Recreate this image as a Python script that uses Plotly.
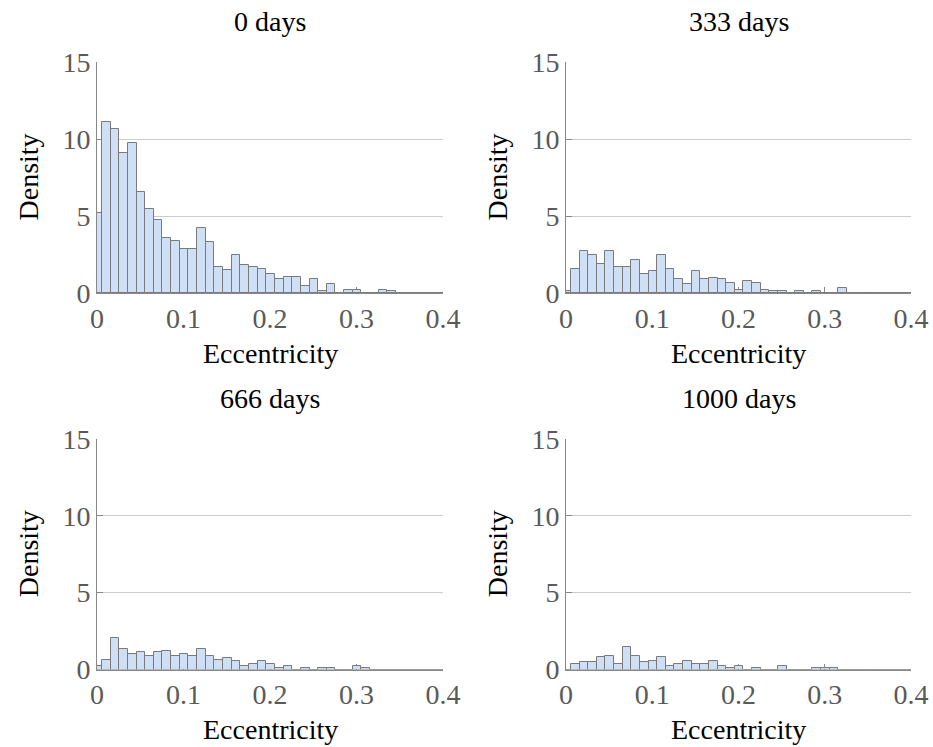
import plotly.graph_objects as go

# Bin layout (width 0.01, edges offset so the first bin is clipped at 0)
bin_width = 0.01
bin_start = -0.0043

days_0 = [5.17, 11.09, 10.65, 9.07, 9.74, 6.57, 5.43, 4.74, 3.54, 3.39, 2.83, 2.83, 4.20, 3.28,
          1.72, 1.48, 2.50, 1.80, 1.72, 1.59, 1.26, 0.91, 1.04, 1.04, 0.46, 0.91, 0.13, 0.59,
          0.0, 0.22, 0.22, 0.0, 0.0, 0.22, 0.11, 0, 0, 0, 0, 0, 0]
days_333 = [0.15, 1.57, 2.70, 2.48, 1.91, 2.70, 1.70, 1.70, 2.13, 1.24, 1.46, 2.48, 1.57, 0.89,
            0.57, 1.46, 0.89, 1.00, 0.89, 0.67, 0.22, 0.78, 0.67, 0.22, 0.11, 0.11, 0.0, 0.11,
            0.0, 0.11, 0.0, 0.0, 0.33, 0, 0, 0, 0, 0, 0, 0, 0]
days_666 = [0.22, 0.65, 2.02, 1.33, 1.00, 1.11, 0.89, 1.11, 1.22, 0.89, 1.00, 0.89, 1.33, 0.89,
            0.65, 0.78, 0.54, 0.20, 0.33, 0.54, 0.33, 0.11, 0.20, 0.0, 0.11, 0.0, 0.11, 0.11,
            0.0, 0.0, 0.22, 0.11, 0, 0, 0, 0, 0, 0, 0, 0, 0]
days_1000 = [0.0, 0.35, 0.46, 0.46, 0.80, 0.91, 0.35, 1.48, 0.91, 0.46, 0.57, 0.80, 0.22, 0.35,
             0.57, 0.35, 0.35, 0.57, 0.22, 0.11, 0.22, 0.0, 0.11, 0.0, 0.0, 0.22, 0.0, 0.0,
             0.0, 0.11, 0.11, 0.11, 0, 0, 0, 0, 0, 0, 0, 0, 0]

titles = ["0 days", "333 days", "666 days", "1000 days"]
series = [days_0, days_333, days_666, days_1000]
x_ticks = [0, 0.1, 0.2, 0.3, 0.4]
x_tick_labels = ["0", "0.1", "0.2", "0.3", "0.4"]
y_ticks = [0, 5, 10, 15]
y_tick_labels = ["0", "5", "10", "15"]

W, H = 933, 747
# plot boxes in page pixels (left, right, top, bottom)
boxes = [(97, 443, 62, 293), (566, 911, 62, 293), (97, 443, 439, 669.5), (566, 911, 439, 669.5)]

def px(x):
    return x / W

def py(y):
    return 1 - y / H

serif = "Liberation Serif"
fig = go.Figure()

for i, (vals, title, box) in enumerate(zip(series, titles, boxes)):
    centers = [bin_start + bin_width * (k + 0.5) for k in range(len(vals))]
    xa = "x" if i == 0 else f"x{i+1}"
    ya = "y" if i == 0 else f"y{i+1}"
    fig.add_trace(go.Bar(
        x=centers, y=vals, width=bin_width,
        marker=dict(color="#cfdff6", line=dict(color="#7a7a7a", width=1)),
        xaxis=xa, yaxis=ya, showlegend=False, hoverinfo="x+y",
    ))
    l, r, t, b = box
    key = "" if i == 0 else str(i + 1)
    fig.layout["xaxis" + key] = dict(
        domain=[px(l), px(r)], range=[0, 0.4], anchor=ya, tickvals=x_ticks, ticktext=x_tick_labels,
        ticks="inside", ticklen=6, tickcolor="#888888", showline=True, linecolor="#888888",
        linewidth=1, showgrid=False, zeroline=False, layer="below traces", automargin=False,
        tickfont=dict(family=serif, size=28, color="#5a5a5a"),
    )
    fig.layout["yaxis" + key] = dict(
        domain=[py(b), py(t)], range=[0, 15], anchor=xa, tickvals=y_ticks, ticktext=y_tick_labels,
        ticks="inside", ticklen=6, tickcolor="#888888", showline=True, linecolor="#888888",
        linewidth=1, showgrid=True, gridcolor="#cccccc", gridwidth=1, zeroline=False,
        layer="below traces", automargin=False,
        tickfont=dict(family=serif, size=28, color="#5a5a5a"),
    )
    cx = px((l + r) / 2)
    fig.add_annotation(text=title, x=cx, y=py(t - 41), xref="paper", yref="paper",
                       showarrow=False, font=dict(family=serif, size=28, color="black"),
                       xanchor="center", yanchor="middle")
    fig.add_annotation(text="Eccentricity", x=cx, y=py(b + 60), xref="paper", yref="paper",
                       showarrow=False, font=dict(family=serif, size=28, color="black"),
                       xanchor="center", yanchor="middle")
    fig.add_annotation(text="Density", x=px(l - 69), y=py((t + b) / 2), xref="paper",
                       yref="paper", showarrow=False, textangle=-90,
                       font=dict(family=serif, size=28, color="black"),
                       xanchor="center", yanchor="middle")

fig.update_layout(
    width=W, height=H, margin=dict(l=0, r=0, t=0, b=0, autoexpand=False),
    plot_bgcolor="white", paper_bgcolor="white", bargap=0,
)

fig.write_html(
    "out.html",
    config={"displayModeBar": False},
    post_script="document.body.style.margin='0';document.body.style.overflow='hidden';"
                "document.documentElement.style.overflow='hidden';",
)
